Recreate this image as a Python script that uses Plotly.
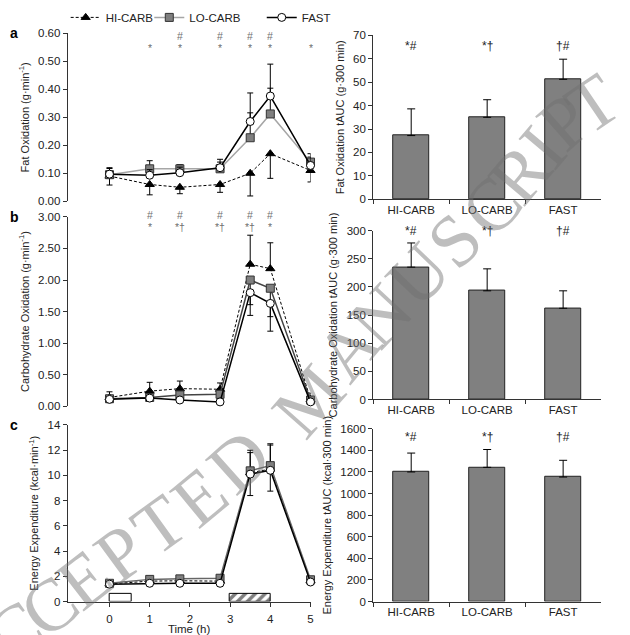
import math
import plotly.graph_objects as go

# ---------------- data ----------------
times = [0, 1, 1.75, 2.75, 3.5, 4, 5]
series_names = ["HI-CARB", "LO-CARB", "FAST"]

fat_hi = [0.09, 0.06, 0.05, 0.06, 0.10, 0.17, 0.11]
fat_hi_sd = [0.032, 0.037, 0.023, 0.028, 0.081, 0.088, 0.041]
fat_lo = [0.095, 0.116, 0.116, 0.116, 0.227, 0.312, 0.14]
fat_lo_sd = [0.025, 0.029, 0.015, 0.034, 0.089, 0.092, 0.03]
fat_fast = [0.097, 0.093, 0.102, 0.12, 0.285, 0.376, 0.128]
fat_fast_sd = [0.02, 0.02, 0.02, 0.02, 0.102, 0.114, 0.03]

cho_hi = [0.14, 0.24, 0.28, 0.27, 2.25, 2.18, 0.11]
cho_hi_sd = [0.09, 0.14, 0.12, 0.10, 0.46, 0.41, 0.10]
cho_lo = [0.12, 0.14, 0.18, 0.19, 2.00, 1.87, 0.10]
cho_lo_sd = [0.04, 0.04, 0.05, 0.06, 0.39, 0.45, 0.04]
cho_fast = [0.11, 0.13, 0.10, 0.07, 1.80, 1.63, 0.07]
cho_fast_sd = [0.03, 0.03, 0.03, 0.03, 0.36, 0.44, 0.03]

ee_hi = [1.40, 1.62, 1.65, 1.62, 10.2, 10.5, 1.65]
ee_hi_sd = [0.2, 0.2, 0.2, 0.2, 1.6, 1.9, 0.2]
ee_lo = [1.45, 1.76, 1.80, 1.85, 10.36, 10.77, 1.73]
ee_lo_sd = [0.2, 0.2, 0.2, 0.2, 1.63, 1.73, 0.2]
ee_fast = [1.38, 1.45, 1.45, 1.45, 10.1, 10.4, 1.55]
ee_fast_sd = [0.2, 0.2, 0.2, 0.2, 1.7, 1.65, 0.2]

# significance marks over time points
fat_sig_top = ["", "", "#", "#", "#", "#", ""]
fat_sig_bot = ["", "*", "*", "*", "*", "*", "*"]
cho_sig_top = ["", "#", "#", "#", "#", "#", ""]
cho_sig_bot = ["", "*", "*†", "*†", "*†", "*", ""]

# meal / exercise periods (h)
period_start = [0, 3]
period_end = [0.55, 4]
period_height = [0.65, 0.65]
period_pattern = ["", "/"]

# tAUC bars
groups = ["HI-CARB", "LO-CARB", "FAST"]
fat_auc = [27.2, 35.0, 51.2]
fat_auc_sd = [11.4, 7.5, 8.6]
cho_auc = [235, 193, 162]
cho_auc_sd = [43, 39, 31]
ee_auc = [1200, 1243, 1153]
ee_auc_sd = [175, 165, 155]
auc_sig = ["*#", "*†", "†#"]

# watermark text
watermark = "ACCEPTED MANUSCRIPT"

# ---------------- figure ----------------
W, H = 630, 635
FONT = "Liberation Sans, Arial, sans-serif"
TXT = "#222222"
fig = go.Figure()

def px_x(p):
    return p / W

def px_y(p):
    return 1 - p / H

def style(name, lo_line="#a6a6a6"):
    if name == "HI-CARB":
        return dict(line=dict(color="black", width=1, dash="3px,2px"),
                    marker=dict(symbol="triangle-up", size=8, color="black",
                                line=dict(color="black", width=1)))
    if name == "LO-CARB":
        return dict(line=dict(color=lo_line, width=1.5),
                    marker=dict(symbol="square", size=8, color="#7f7f7f",
                                line=dict(color="#333333", width=1)))
    return dict(line=dict(color="black", width=1.5),
                marker=dict(symbol="circle", size=8, color="white",
                            line=dict(color="black", width=1)))

legend_ids = {"HI-CARB": "legend", "LO-CARB": "legend2", "FAST": "legend3"}

def add_line(name, y, sd, direction, xa, ya, legend, lo_line="#a6a6a6"):
    n = len(y)
    if direction == "up":
        err = dict(type="data", symmetric=False, array=sd, arrayminus=[0] * n)
    else:
        err = dict(type="data", symmetric=False, array=[0] * n, arrayminus=sd)
    err.update(color="black", thickness=1, width=3)
    fig.add_trace(go.Scatter(
        x=times, y=y, name=name, mode="lines+markers", error_y=err,
        xaxis=xa, yaxis=ya, showlegend=legend, legend=legend_ids[name],
        cliponaxis=False, **style(name, lo_line)))

# panel c periods (drawn first so lines sit on top)
mids = [(s + e) / 2 for s, e in zip(period_start, period_end)]
widths = [e - s for s, e in zip(period_start, period_end)]
fig.add_trace(go.Bar(
    x=mids, y=period_height, width=widths, xaxis="x3", yaxis="y3",
    showlegend=False, hoverinfo="skip",
    marker=dict(color="white", line=dict(color="black", width=1),
                pattern=dict(shape=period_pattern, fgcolor="black",
                             bgcolor="white", size=7, solidity=0.5))))

# panel a
add_line("HI-CARB", fat_hi, fat_hi_sd, "down", "x", "y", True)
add_line("LO-CARB", fat_lo, fat_lo_sd, "up", "x", "y", True)
add_line("FAST", fat_fast, fat_fast_sd, "up", "x", "y", True)
# panel b
add_line("HI-CARB", cho_hi, cho_hi_sd, "up", "x2", "y2", False)
add_line("LO-CARB", cho_lo, cho_lo_sd, "down", "x2", "y2", False, "#444444")
add_line("FAST", cho_fast, cho_fast_sd, "down", "x2", "y2", False)
# panel c
add_line("HI-CARB", ee_hi, ee_hi_sd, "up", "x3", "y3", False)
add_line("LO-CARB", ee_lo, ee_lo_sd, "up", "x3", "y3", False, "#666666")
add_line("FAST", ee_fast, ee_fast_sd, "down", "x3", "y3", False)

# bars
for vals, sds, xa, ya in [(fat_auc, fat_auc_sd, "x4", "y4"),
                          (cho_auc, cho_auc_sd, "x5", "y5"),
                          (ee_auc, ee_auc_sd, "x6", "y6")]:
    fig.add_trace(go.Bar(
        x=groups, y=vals, width=0.47, xaxis=xa, yaxis=ya, showlegend=False,
        marker=dict(color="#808080", line=dict(color="#222222", width=1)),
        error_y=dict(type="data", symmetric=False, array=sds,
                     arrayminus=[0] * len(sds), color="black", thickness=1,
                     width=4)))

# ---------------- axes ----------------
left_dom = [px_x(68), px_x(312)]
right_dom = [px_x(375), px_x(604)]
tickfont = dict(family=FONT, size=11.5, color=TXT)
titlefont = dict(family=FONT, size=11, color=TXT)

def yax(dom, rng, dtick, fmt, title, anchor):
    return dict(domain=dom, range=rng, dtick=dtick, tick0=0, tickformat=fmt,
                showline=True, linecolor="#333333", linewidth=1,
                ticks="outside", ticklen=4, tickcolor="#333333",
                showgrid=False, zeroline=False, tickfont=tickfont,
                title=dict(text=title, font=titlefont, standoff=6),
                anchor=anchor)

xr = [-1.04, 5]
hidden_x = dict(domain=left_dom, range=xr, visible=False)
fig.update_layout(
    xaxis=dict(hidden_x, anchor="y"),
    xaxis2=dict(hidden_x, anchor="y2"),
    xaxis3=dict(domain=left_dom, range=xr, anchor="y3", tickvals=[0, 1, 2, 3, 4, 5],
                showline=True, linecolor="#333333", linewidth=1, ticks="outside",
                ticklen=4, tickcolor="#333333", showgrid=False, zeroline=False,
                tickfont=tickfont, ticklabelstandoff=3,
                title=dict(text="Time (h)", font=dict(family=FONT, size=11.5, color=TXT),
                           standoff=2)),
    yaxis=yax([px_y(200), px_y(28)], [0, 0.6], 0.1, ".2f",
              "Fat Oxidation (g·min<sup>-1</sup>)", "x"),
    yaxis2=yax([px_y(410), px_y(216)], [0, 3], 0.5, ".2f",
               "Carbohydrate Oxidation (g·min<sup>-1</sup>)", "x2"),
    yaxis3=yax([px_y(610), px_y(429)], [0, 14], 2, "d",
               "Energy Expenditure (kcal·min<sup>-1</sup>)", "x3"),
)

for i, (top, bot, rng, ttl) in enumerate([
        (198, 30, [0, 70], "Fat Oxidation tAUC (g·300 min)"),
        (403, 230, [0, 300], "Carbohydrate Oxidation tAUC (g·300 min)"),
        (610, 433, [0, 1600], "Energy Expenditure tAUC (kcal·300 min)")]):
    xi, yi = 4 + i, 4 + i
    dt = [10, 50, 200][i]
    fig.layout[f"xaxis{xi}"] = dict(
        domain=right_dom, anchor=f"y{yi}", type="category",
        range=[-0.5, 2.5], tickson="boundaries", showline=True,
        linecolor="#333333", linewidth=1, ticks="outside", ticklen=4,
        tickcolor="#333333", showgrid=False, tickfont=tickfont)
    fig.layout[f"yaxis{yi}"] = yax([px_y(top), px_y(bot)], rng, dt, "d", ttl,
                                   f"x{xi}")

# ---------------- annotations ----------------
ann = []
sigfont = dict(family=FONT, size=10.5, color="#707070")
for xref, tops, bots, py_top, py_bot in [
        ("x", fat_sig_top, fat_sig_bot, 31, 43),
        ("x2", cho_sig_top, cho_sig_bot, 214, 226)]:
    for t, a, b in zip(times, tops, bots):
        if a:
            ann.append(dict(x=t, y=px_y(py_top), xref=xref, yref="paper", text=a,
                            showarrow=False, font=sigfont, yanchor="middle"))
        if b:
            ann.append(dict(x=t, y=px_y(py_bot), xref=xref, yref="paper", text=b,
                            showarrow=False, font=sigfont, yanchor="middle"))
for i, py in enumerate([41, 230, 441]):
    for g, s in zip(groups, auc_sig):
        ann.append(dict(x=g, y=px_y(py), xref=f"x{4+i}", yref="paper", text=s,
                        showarrow=False, yanchor="middle",
                        font=dict(family=FONT, size=12, color=TXT)))
for letter, py in [("a", 28), ("b", 216), ("c", 429)]:
    ann.append(dict(x=px_x(8), y=px_y(py), xref="paper", yref="paper",
                    xanchor="left", yanchor="middle", text=f"<b>{letter}</b>",
                    showarrow=False, font=dict(family=FONT, size=14, color="black")))

# watermark letters along a gentle arc (pixel path)
wm_path = [(-20, 662), (15, 640), (50, 615), (85, 587), (121, 560), (160, 532),
           (200, 503), (240, 466), (275, 436), (310, 405), (349, 352), (382, 318),
           (420, 276), (457, 240), (494, 205), (522, 172), (545, 144), (567, 119),
           (595, 100)]
for k, ch in enumerate(watermark):
    if ch == " ":
        continue
    x0, y0 = wm_path[max(k - 1, 0)]
    x1, y1 = wm_path[min(k + 1, len(wm_path) - 1)]
    ang = math.degrees(math.atan2(y1 - y0, x1 - x0))
    cx, cy = wm_path[k]
    ann.append(dict(x=px_x(cx), y=px_y(cy), xref="paper", yref="paper",
                    text=ch, showarrow=False, textangle=ang,
                    xanchor="center", yanchor="middle",
                    font=dict(family="Liberation Serif, DejaVu Serif, serif",
                              size=74, color="rgba(110,110,110,0.45)")))

leg_common = dict(orientation="h", y=1.005, xanchor="left", yanchor="top",
                  font=dict(family=FONT, size=11.5, color=TXT),
                  bgcolor="rgba(0,0,0,0)", itemwidth=30)
fig.update_layout(
    annotations=ann,
    width=W, height=H, margin=dict(l=0, r=0, t=0, b=0),
    paper_bgcolor="white", plot_bgcolor="white",
    font=dict(family=FONT, color=TXT),
    showlegend=True,
    legend=dict(leg_common, x=px_x(66)),
    legend2=dict(leg_common, x=px_x(150)),
    legend3=dict(leg_common, x=px_x(263)),
    bargap=0,
)

fig.write_html("out.html")
